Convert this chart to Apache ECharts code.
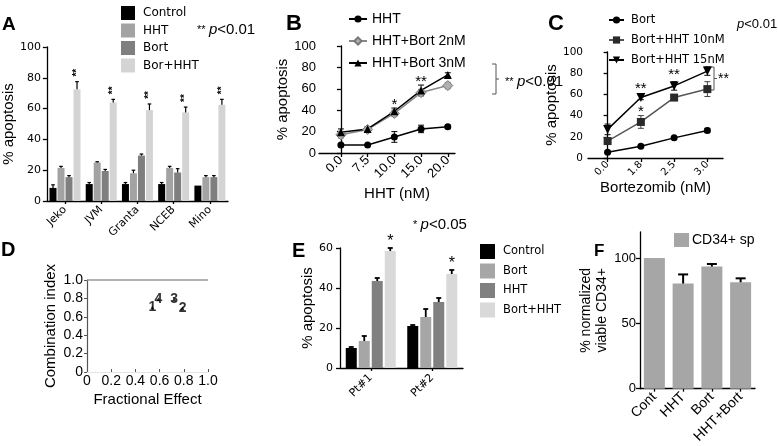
<!DOCTYPE html>
<html lang="en">
<head>
<meta charset="UTF-8">
<title>HHT + Bortezomib apoptosis panels</title>
<style>
  html, body { margin: 0; padding: 0; overflow: hidden; background: #fff; }
  #chart { width: 778px; height: 446px; }
</style>
</head>
<body>
<div id="chart"></div>
<script src="https://cdn.jsdelivr.net/npm/echarts@6/dist/echarts.min.js"></script>
<script>
  // ---- A: cell lines
  const cellLines = ['Jeko', 'JVM', 'Granta', 'NCEB', 'Mino'];
  const aControl = [8.5, 11, 11, 11, 10];
  const aHHT = [21.5, 25, 18, 21.5, 15.5];
  const aBort = [15.5, 19.5, 29.5, 18.5, 15.5];
  const aCombo = [72.5, 64, 59, 57.5, 62.5];
  const aControlErr = [2, 1, 1, 1, 0];
  const aHHTErr = [1, 0.5, 2, 1, 1];
  const aBortErr = [1, 1, 1, 2.5, 1];
  const aComboErr = [5, 2, 4, 3.5, 3.5];
  const aComboStars = ['**', '**', '**', '**', '**'];

  // ---- B: HHT dose
  const hhtDoses = ['0.0', '7.5', '10.0', '15.0', '20.0'];
  const bHHT = [7.5, 7.5, 15, 22.5, 24.5];
  const bBort2 = [17, 22, 37, 56.5, 63];
  const bBort3 = [19.5, 22.5, 39, 58.5, 73];
  const bHHTErr = [0.5, 0.5, 5, 3.5, 1.5];
  const bBort2Err = [3, 2, 3, 3, 3];
  const bBort3Err = [3, 2, 3, 5, 2];
  const bBort3Stars = ['', '', '*', '**', ''];

  // ---- C: bortezomib dose
  const bortDoses = ['0.0', '1.8', '2.5', '3.0'];
  const cBort = [5.5, 11, 19, 26];
  const cHHT10 = [16, 34, 57, 65];
  const cHHT15 = [27, 57, 68, 82];
  const cBortErr = [1, 1, 1, 2];
  const cHHT10Err = [3, 6, 2, 7];
  const cHHT15Err = [5, 2, 4, 4];
  const cHHT10Stars = ['', '*', '', ''];
  const cHHT15Stars = ['', '**', '**', ''];

  // ---- D: combination index
  const ciLabels = ['1', '2', '3', '4'];
  const ciFa = [0.54, 0.79, 0.72, 0.59];
  const ciValue = [0.70, 0.69, 0.79, 0.79];

  // ---- E: patients
  const patients = ['Pt#1', 'Pt#2'];
  const eControl = [10, 21];
  const eBort = [13.5, 25.5];
  const eHHT = [43.5, 33];
  const eCombo = [58.5, 47];
  const eControlErr = [0.5, 0.5];
  const eBortErr = [2.5, 4];
  const eHHTErr = [1.5, 2];
  const eComboErr = [1.5, 2];
  const eComboStars = ['*', '*'];

  // ---- F: CD34+
  const cd34Groups = ['Cont', 'HHT', 'Bort', 'HHT+Bort'];
  const cd34Viable = [100, 80.5, 93.5, 81.5];
  const cd34Err = [0, 7, 2, 3];

  const FONT = 'Liberation Sans, Arial, sans-serif';
  const WIDE = 'DejaVu Sans, sans-serif';
  const AX = { color: '#000', width: 1.3 };

  const myChart = echarts.init(document.getElementById('chart'));

  // offsets of bars inside a group, in px
  function groupOffsets(n, w, gap) {
    const total = n * w + (n - 1) * gap;
    const out = [];
    for (let i = 0; i < n; i++) out.push(-total / 2 + w / 2 + i * (w + gap));
    return out;
  }

  // error bars (+ optional star text) drawn on the chart's own axes
  function errorSeries(o) {
    return {
      type: 'custom',
      xAxisIndex: o.axis, yAxisIndex: o.axis,
      silent: true, z: 5, clip: false,
      data: o.values.map((v, i) => [i, v, o.errs[i]]),
      renderItem: function (params, api) {
        const i = params.dataIndex;
        const x = api.value(0), v = api.value(1), e = api.value(2);
        const top = api.coord([x, v + e]);
        const base = api.coord([x, o.both ? v - e : v]);
        const cx = top[0] + (o.offset || 0);
        const cap = o.cap || 2;
        const st = { stroke: o.color || '#000', lineWidth: o.width || 1 };
        const kids = [];
        if (e > 0) {
          kids.push({ type: 'line', shape: { x1: cx, y1: base[1], x2: cx, y2: top[1] }, style: st });
          kids.push({ type: 'line', shape: { x1: cx - cap, y1: top[1], x2: cx + cap, y2: top[1] }, style: st });
          if (o.both) kids.push({ type: 'line', shape: { x1: cx - cap, y1: base[1], x2: cx + cap, y2: base[1] }, style: st });
        }
        const star = o.stars ? o.stars[i] : '';
        if (star) {
          kids.push({
            type: 'text', x: cx, y: top[1] - (o.starGap || 6), rotation: o.starRotate || 0,
            style: { text: star, fill: '#000', font: o.starFont || ('14px ' + FONT), align: 'center', verticalAlign: 'middle' }
          });
        }
        return { type: 'group', children: kids };
      }
    };
  }

  // ---- A bars
  const aW = 7, aGap = 1;
  const aOff = groupOffsets(4, aW, aGap);
  const aGroups = [
    ['A|Control', aControl, aControlErr, '#000000'],
    ['A|HHT', aHHT, aHHTErr, '#a3a3a3'],
    ['A|Bort', aBort, aBortErr, '#7f7f7f'],
    ['A|Bor+HHT', aCombo, aComboErr, '#d4d4d4']
  ];
  const series = [];
  aGroups.forEach(g => {
    series.push({ name: g[0], type: 'bar', xAxisIndex: 0, yAxisIndex: 0, data: g[1],
      barWidth: aW, barGap: (aGap / aW * 100) + '%', itemStyle: { color: g[3] } });
  });
  aGroups.forEach((g, k) => {
    series.push(errorSeries({ axis: 0, values: g[1], errs: g[2], offset: aOff[k], cap: 1.8, width: 1.2,
      stars: k === 3 ? aComboStars : null, starGap: 9, starRotate: Math.PI / 2, starFont: 'bold 10px ' + FONT }));
  });

  // ---- B lines
  const toXY = arr => arr.map((v, i) => [i, v]);
  series.push(
    errorSeries({ axis: 1, values: bBort2, errs: bBort2Err, both: true, color: '#777', cap: 3 }),
    errorSeries({ axis: 1, values: bHHT, errs: bHHTErr, both: true, cap: 3 }),
    errorSeries({ axis: 1, values: bBort3, errs: bBort3Err, both: true, cap: 3, stars: bBort3Stars, starGap: 3, starFont: '15px ' + FONT }),
    { name: 'B|HHT', type: 'line', xAxisIndex: 1, yAxisIndex: 1, data: toXY(bHHT), symbol: 'circle', symbolSize: 7,
      itemStyle: { color: '#000' }, lineStyle: { color: '#000', width: 1.5 }, z: 6 },
    { name: 'B|HHT+Bort 2nM', type: 'line', xAxisIndex: 1, yAxisIndex: 1, data: toXY(bBort2), symbol: 'diamond', symbolSize: 10,
      itemStyle: { color: '#b0b0b0', borderColor: '#777', borderWidth: 1 }, lineStyle: { color: '#888', width: 1.5 }, z: 6 },
    { name: 'B|HHT+Bort 3nM', type: 'line', xAxisIndex: 1, yAxisIndex: 1, data: toXY(bBort3), symbol: 'triangle', symbolSize: 8,
      itemStyle: { color: '#000' }, lineStyle: { color: '#000', width: 1.5 }, z: 6 }
  );

  // ---- C lines
  series.push(
    errorSeries({ axis: 2, values: cBort, errs: cBortErr, both: true, cap: 3 }),
    errorSeries({ axis: 2, values: cHHT10, errs: cHHT10Err, both: true, cap: 3, color: '#444', stars: cHHT10Stars, starGap: 4, starFont: '15px ' + FONT }),
    errorSeries({ axis: 2, values: cHHT15, errs: cHHT15Err, both: true, cap: 3, stars: cHHT15Stars, starGap: 7, starFont: '15px ' + FONT }),
    { name: 'C|Bort', type: 'line', xAxisIndex: 2, yAxisIndex: 2, data: toXY(cBort), symbol: 'circle', symbolSize: 7,
      itemStyle: { color: '#000' }, lineStyle: { color: '#000', width: 1.5 }, z: 6 },
    { name: 'C|Bort+HHT 10nM', type: 'line', xAxisIndex: 2, yAxisIndex: 2, data: toXY(cHHT10), symbol: 'rect', symbolSize: 8,
      itemStyle: { color: '#2a2a2a' }, lineStyle: { color: '#555', width: 1.5 }, z: 6 },
    { name: 'C|Bort+HHT 15nM', type: 'line', xAxisIndex: 2, yAxisIndex: 2, data: toXY(cHHT15), symbol: 'triangle', symbolRotate: 180, symbolSize: 9,
      itemStyle: { color: '#000' }, lineStyle: { color: '#000', width: 1.5 }, z: 6 }
  );

  // ---- D scatter
  series.push({
    type: 'scatter', xAxisIndex: 3, yAxisIndex: 3,
    data: ciFa.map((f, i) => [f, ciValue[i]]),
    symbol: 'triangle', symbolSize: 4, itemStyle: { color: '#000' },
    label: { show: true, position: 'inside', formatter: p => ciLabels[p.dataIndex],
      color: '#000', fontFamily: FONT, fontWeight: 'bold', fontSize: 14 },
    markLine: { silent: true, symbol: 'none', data: [{ yAxis: 1 }],
      lineStyle: { color: '#999', width: 1.5, type: 'solid' }, label: { show: false } }
  });

  // ---- E bars
  const eW = 11, eGap = 2;
  const eOff = groupOffsets(4, eW, eGap);
  const eGroups = [
    ['E|Control', eControl, eControlErr, '#000000'],
    ['E|Bort', eBort, eBortErr, '#a6a6a6'],
    ['E|HHT', eHHT, eHHTErr, '#808080'],
    ['E|Bort+HHT', eCombo, eComboErr, '#d9d9d9']
  ];
  eGroups.forEach(g => {
    series.push({ name: g[0], type: 'bar', xAxisIndex: 4, yAxisIndex: 4, data: g[1],
      barWidth: eW, barGap: (eGap / eW * 100) + '%', itemStyle: { color: g[3] } });
  });
  eGroups.forEach((g, k) => {
    series.push(errorSeries({ axis: 4, values: g[1], errs: g[2], offset: eOff[k], cap: 2.5, width: 1.8,
      stars: k === 3 ? eComboStars : null, starGap: 6, starFont: '16px ' + FONT }));
  });

  // ---- F bars
  series.push(
    { name: 'F|CD34+ sp', type: 'bar', xAxisIndex: 5, yAxisIndex: 5, data: cd34Viable, barWidth: 21,
      itemStyle: { color: '#a6a6a6' } },
    errorSeries({ axis: 5, values: cd34Viable, errs: cd34Err, cap: 5, width: 2 })
  );

  function yAx(grid, extra) {
    return Object.assign({
      gridIndex: grid, type: 'value', min: 0,
      axisLine: { show: true, lineStyle: AX },
      axisTick: { show: true, length: 4, lineStyle: AX },
      splitLine: { show: false },
      axisLabel: { color: '#000', fontFamily: FONT, fontSize: 12, margin: 6 },
      nameLocation: 'middle',
      nameTextStyle: { color: '#000', fontFamily: FONT, fontSize: 15 }
    }, extra);
  }
  function xAx(grid, extra) {
    return Object.assign({
      gridIndex: grid,
      axisLine: { show: true, lineStyle: AX },
      axisTick: { show: true, length: 4, lineStyle: AX },
      splitLine: { show: false },
      nameLocation: 'middle',
      nameTextStyle: { color: '#000', fontFamily: FONT, fontSize: 15 }
    }, extra);
  }
  const doseIdxB = hhtDoses.map((d, i) => i);
  const doseIdxC = bortDoses.map((d, i) => i);
  const oneDec = v => (v === 0 ? '0' : v.toFixed(1));
  const richP = size => ({
    s: { fontSize: 11, fontFamily: FONT, fill: '#000' },
    p: { fontSize: size, fontStyle: 'italic', fontFamily: FONT, fill: '#000' },
    t: { fontSize: size, fontFamily: FONT, fill: '#000' }
  });

  const option = {
    animation: false,
    backgroundColor: '#fff',
    textStyle: { fontFamily: FONT },
    grid: [
      { left: 43, top: 47, width: 185, height: 154 },
      { left: 319, top: 46, width: 136, height: 107 },
      { left: 588, top: 52, width: 135, height: 106 },
      { left: 87, top: 280, width: 121, height: 92 },
      { left: 340, top: 248, width: 123, height: 120 },
      { left: 640, top: 232, width: 115, height: 158 }
    ],
    xAxis: [
      xAx(0, { type: 'category', data: cellLines,
        axisTick: { show: true, alignWithLabel: true, length: 3, lineStyle: AX },
        axisLabel: { rotate: 45, interval: 0, color: '#000', fontFamily: WIDE, fontSize: 11, margin: 7 } }),
      xAx(1, { type: 'value', min: -0.82, max: 4.27, name: 'HHT (nM)', nameGap: 33,
        nameTextStyle: { color: '#000', fontFamily: FONT, fontSize: 15, padding: [0, 0, 0, 20] },
        axisTick: { show: true, length: 4, lineStyle: AX, customValues: doseIdxB },
        axisLabel: { customValues: doseIdxB, formatter: v => hhtDoses[v], rotate: 45, color: '#000', fontFamily: FONT, fontSize: 13, margin: 5 } }),
      xAx(2, { type: 'value', min: -0.59, max: 3.47, name: 'Bortezomib (nM)', nameGap: 20,
        axisTick: { show: true, length: 4, lineStyle: AX, customValues: doseIdxC },
        axisLabel: { customValues: doseIdxC, formatter: v => bortDoses[v], rotate: 45, color: '#000', fontFamily: WIDE, fontSize: 10, margin: 5 } }),
      xAx(3, { type: 'value', min: 0, max: 1, interval: 0.2, name: 'Fractional Effect', nameGap: 20,
        axisLine: { show: true, lineStyle: { color: '#e4e4e4', width: 1 } },
        axisTick: { show: true, length: 3, inside: true, lineStyle: { color: '#555', width: 1 } },
        axisLabel: { formatter: oneDec, color: '#000', fontFamily: FONT, fontSize: 14, margin: 2 } }),
      xAx(4, { type: 'category', data: patients,
        axisTick: { show: true, alignWithLabel: true, length: 3, lineStyle: AX },
        axisLabel: { rotate: 45, interval: 0, color: '#000', fontFamily: WIDE, fontSize: 11, margin: 8 } }),
      xAx(5, { type: 'category', data: cd34Groups,
        axisTick: { show: true, alignWithLabel: true, length: 3, lineStyle: AX },
        axisLabel: { rotate: 45, interval: 0, color: '#000', fontFamily: FONT, fontSize: 14, margin: 6 } })
    ],
    yAxis: [
      yAx(0, { max: 100, interval: 20, name: '% apoptosis', nameGap: 30,
        axisLabel: { color: '#000', fontFamily: WIDE, fontSize: 11, margin: 6 } }),
      yAx(1, { max: 100, interval: 20, name: '% apoptosis', nameGap: 15,
        axisLabel: { color: '#000', fontFamily: FONT, fontSize: 13, margin: 3 } }),
      yAx(2, { max: 100, interval: 20, name: '% apoptosis', nameGap: 27,
        axisLabel: { color: '#000', fontFamily: WIDE, fontSize: 10.5, margin: 5 } }),
      yAx(3, { max: 1, interval: 0.2, name: 'Combination index', nameGap: 29,
        axisLine: { show: true, lineStyle: { color: '#555', width: 1.2 } },
        axisTick: { show: true, length: 3, lineStyle: { color: '#555', width: 1 } },
        axisLabel: { formatter: oneDec, color: '#000', fontFamily: FONT, fontSize: 14, margin: 4 } }),
      yAx(4, { max: 60, interval: 20, name: '% apoptosis', nameGap: 24,
        axisLabel: { color: '#000', fontFamily: WIDE, fontSize: 11, margin: 7 } }),
      yAx(5, { max: 120, name: '% normalized\nviable CD34+', nameGap: 11,
        nameTextStyle: { color: '#000', fontFamily: FONT, fontSize: 14, lineHeight: 16 },
        axisTick: { show: true, length: 4, lineStyle: AX, customValues: [0, 50, 100] },
        axisLabel: { customValues: [0, 50, 100], color: '#000', fontFamily: FONT, fontSize: 13, margin: 4 } })
    ],
    legend: [
      { data: aGroups.map(g => g[0]), orient: 'vertical', left: 116, top: 1, icon: 'rect',
        itemWidth: 14, itemHeight: 14, itemGap: 3.5, selectedMode: false,
        formatter: n => n.slice(2), textStyle: { color: '#000', fontFamily: WIDE, fontSize: 12, padding: [0, 0, 0, 3] } },
      { data: ['B|HHT', 'B|HHT+Bort 2nM', 'B|HHT+Bort 3nM'], orient: 'vertical', left: 343, top: 7,
        itemWidth: 18, itemHeight: 9, itemGap: 8, selectedMode: false,
        formatter: n => n.slice(2), textStyle: { color: '#000', fontFamily: FONT, fontSize: 14 } },
      { data: ['C|Bort', 'C|Bort+HHT 10nM', 'C|Bort+HHT 15nM'], orient: 'vertical', left: 603, top: 9,
        itemWidth: 15, itemHeight: 9, itemGap: 8, selectedMode: false,
        formatter: n => n.slice(2), textStyle: { color: '#000', fontFamily: WIDE, fontSize: 11.5, padding: [0, 0, 0, 2] } },
      { data: eGroups.map(g => g[0]), orient: 'vertical', left: 475, top: 239, icon: 'rect',
        itemWidth: 15, itemHeight: 15, itemGap: 4.5, selectedMode: false,
        formatter: n => n.slice(2), textStyle: { color: '#000', fontFamily: WIDE, fontSize: 11.5, padding: [0, 0, 0, 3] } },
      { data: ['F|CD34+ sp'], left: 669, top: 228, icon: 'rect', itemWidth: 15, itemHeight: 14, selectedMode: false,
        formatter: n => n.slice(2), textStyle: { color: '#000', fontFamily: FONT, fontSize: 14, padding: [0, 0, 0, -2] } }
    ],
    graphic: [
      { type: 'text', x: 2, y: 25, style: { text: 'A', font: 'bold 19px ' + FONT, fill: '#000', verticalAlign: 'middle' } },
      { type: 'text', x: 286, y: 24, style: { text: 'B', font: 'bold 22px ' + FONT, fill: '#000', verticalAlign: 'middle' } },
      { type: 'text', x: 548, y: 24, style: { text: 'C', font: 'bold 22px ' + FONT, fill: '#000', verticalAlign: 'middle' } },
      { type: 'text', x: 1, y: 250, style: { text: 'D', font: 'bold 20px ' + FONT, fill: '#000', verticalAlign: 'middle' } },
      { type: 'text', x: 292, y: 251, style: { text: 'E', font: 'bold 20px ' + FONT, fill: '#000', verticalAlign: 'middle' } },
      { type: 'text', x: 594, y: 251, style: { text: 'F', font: 'bold 17px ' + FONT, fill: '#000', verticalAlign: 'middle' } },
      { type: 'text', x: 197, y: 30, style: { text: '{s|**} {p|p}{t|<0.01}', verticalAlign: 'middle', fill: '#000', rich: richP(15) } },
      { type: 'text', x: 505, y: 82, style: { text: '{s|**} {p|p}{t|<0.01}', verticalAlign: 'middle', fill: '#000', rich: richP(15) } },
      { type: 'text', x: 737, y: 24, style: { text: '{p|p}{t|<0.01}', verticalAlign: 'middle', fill: '#000', rich: richP(13) } },
      { type: 'text', x: 718, y: 79, style: { text: '**', font: '14px ' + FONT, fill: '#000', verticalAlign: 'middle' } },
      { type: 'text', x: 413, y: 225, style: { text: '{s|*} {p|p}{t|<0.05}', verticalAlign: 'middle', fill: '#000', rich: richP(15) } },
      // bracket B
      { type: 'polyline', shape: { points: [[492, 64], [496, 64], [496, 94], [492, 94]] }, style: { stroke: '#555', lineWidth: 1, fill: null } },
      { type: 'line', shape: { x1: 496, y1: 79, x2: 499, y2: 79 }, style: { stroke: '#555', lineWidth: 1 } },
      // bracket C
      { type: 'polyline', shape: { points: [[709, 67], [714, 67], [714, 90], [709, 90]] }, style: { stroke: '#555', lineWidth: 1, fill: null } },
      { type: 'line', shape: { x1: 714, y1: 78.5, x2: 717, y2: 78.5 }, style: { stroke: '#555', lineWidth: 1 } }
    ],
    series: series
  };

  myChart.setOption(option);
</script>
</body>
</html>
